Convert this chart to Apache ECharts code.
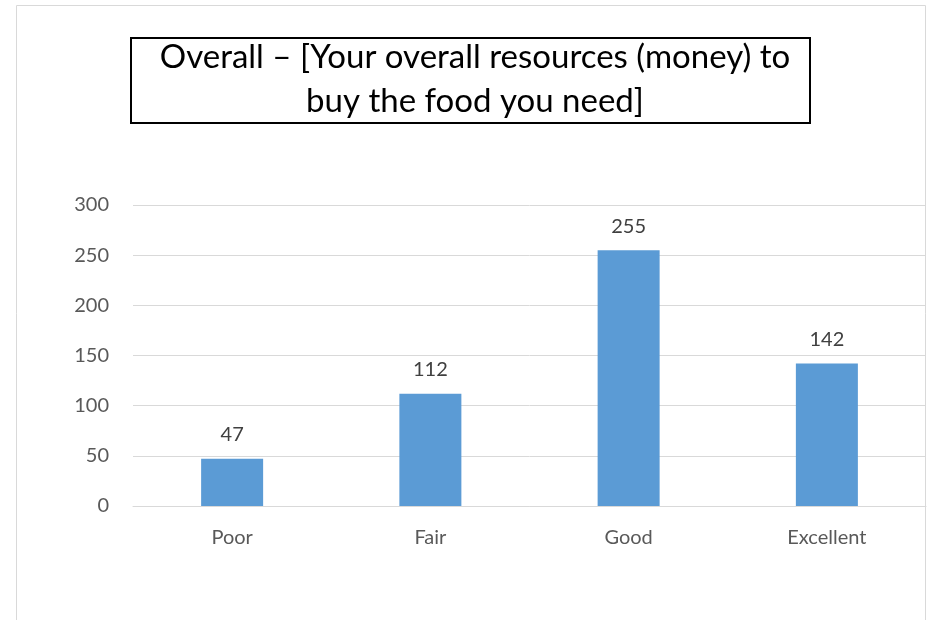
<!DOCTYPE html>
<html>
<head>
<meta charset="utf-8">
<script src="https://cdn.jsdelivr.net/npm/echarts@6/dist/echarts.min.js"></script>
<style>
  html, body { margin: 0; padding: 0; background: #fff; }
  #main { width: 932px; height: 620px; }
</style>
</head>
<body>
<div id="main"></div>
<script>
// chart data
var categories = ['Poor', 'Fair', 'Good', 'Excellent'];
var counts = [47, 112, 255, 142];
var yTicks = [0, 50, 100, 150, 200, 250, 300];

var chart = echarts.init(document.getElementById('main'));

var option = {
  animation: false,
  title: {
    text: 'Overall \u2013 [Your overall resources (money) to\nbuy the food you need]',
    left: 470,
    top: 30,
    textAlign: 'center',
    textStyle: {
      fontFamily: 'Lato',
      fontWeight: 'normal',
      fontSize: 33,
      lineHeight: 44,
      color: '#000'
    }
  },
  graphic: [
    {
      type: 'rect',
      shape: { x: 16.5, y: 5.5, width: 909, height: 700 },
      style: { fill: 'none', stroke: '#d9d9d9', lineWidth: 1 },
      silent: true
    },
    {
      type: 'rect',
      shape: { x: 131, y: 38, width: 679, height: 85 },
      style: { fill: 'none', stroke: '#000', lineWidth: 2 },
      silent: true
    }
  ],
  grid: {
    left: 133,
    right: 6,
    top: 205,
    bottom: 114,
    containLabel: false
  },
  xAxis: {
    type: 'category',
    data: categories,
    axisLine: { show: true, lineStyle: { color: '#d9d9d9', width: 1 } },
    axisTick: { show: false },
    axisLabel: {
      color: '#595959',
      fontFamily: 'Lato',
      fontSize: 20,
      margin: 22
    }
  },
  yAxis: {
    type: 'value',
    min: yTicks[0],
    max: yTicks[yTicks.length - 1],
    interval: 50,
    axisLine: { show: false },
    axisTick: { show: false },
    splitLine: { lineStyle: { color: '#d9d9d9', width: 1 } },
    axisLabel: {
      color: '#595959',
      fontFamily: 'Lato',
      fontSize: 20,
      margin: 24
    }
  },
  series: [
    {
      type: 'bar',
      data: counts,
      barWidth: 62,
      itemStyle: { color: '#5b9bd5' },
      label: {
        show: true,
        position: 'top',
        distance: 14,
        color: '#404040',
        fontFamily: 'Lato',
        fontSize: 20
      }
    }
  ]
};

chart.setOption(option);
</script>
</body>
</html>
